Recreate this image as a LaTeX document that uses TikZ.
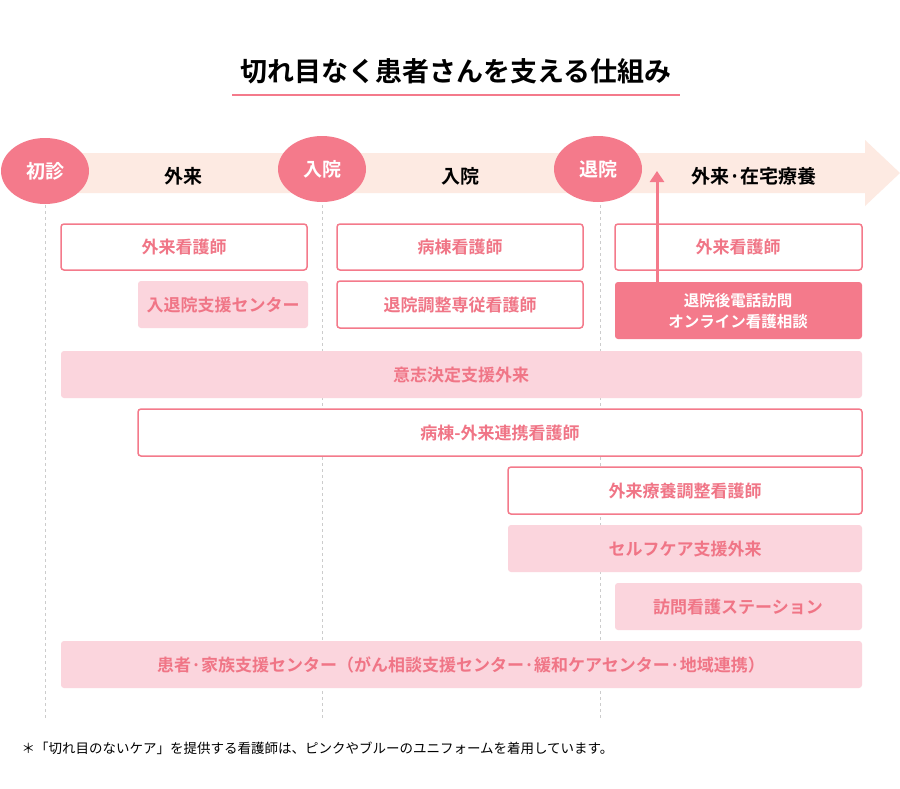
\documentclass[tikz,border=0pt]{standalone}
\usepackage{fontspec}
\setmainfont{Noto Sans CJK JP}[BoldFont={* Bold}]
\usetikzlibrary{arrows.meta,shapes.geometric}
\definecolor{pk}{HTML}{F47A8B}
\definecolor{lpk}{HTML}{FBD5DD}
\definecolor{band}{HTML}{FDEAE2}
\definecolor{txt}{HTML}{F07586}
\tikzset{x=1pt,y=-1pt,
 obox/.style={draw=pk,line width=1.5pt,fill=white,rounded corners=3pt},
 fbox/.style={fill=lpk,rounded corners=3pt},
 lbl/.style={text=txt,font=\fontsize{17}{20}\selectfont\bfseries},
 circ/.style={ellipse,fill=pk,minimum width=88pt,minimum height=66pt,text=white,font=\fontsize{19}{22}\selectfont\bfseries,inner sep=0pt},
 stage/.style={font=\fontsize{19}{22}\selectfont\bfseries},
 vl/.style={draw=black!20,dashed,line width=0.8pt}}
\begin{document}
\begin{tikzpicture}
\useasboundingbox (0,0) rectangle (900,788);
\fill[white] (0,0) rectangle (900,788);
\node[font=\fontsize{27}{32}\selectfont\bfseries] (title) at (456,71) {切れ目なく患者さんを支える仕組み};
\draw[pk,line width=1.2pt] (232,95) -- (680,95);
\fill[band] (45,153) -- (865,153) -- (865,140) -- (900,173) -- (865,206) -- (865,193) -- (45,193) -- cycle;
\draw[vl] (45,205) -- (45,720);
\draw[vl] (322,205) -- (322,720);
\draw[vl] (600,205) -- (600,720);
\node[circ] (c1) at (45,171) {初診};
\node[circ] (c2) at (322,169) {入院};
\node[circ] (c3) at (598,169) {退院};
\node[stage] (s1) at (183,176) {外来};
\node[stage] (s2) at (460,176) {入院};
\node[stage] (s3) at (754,176) {外来·在宅療養};
\draw[obox] (61,224) rectangle (307,270); \node[lbl] (b1) at (184,247) {外来看護師};
\draw[obox] (337,224) rectangle (583,270); \node[lbl] (b2) at (460,247) {病棟看護師};
\draw[obox] (615,224) rectangle (862,270); \node[lbl] (b3) at (738,247) {外来看護師};
\fill[fbox] (138,281) rectangle (308,328); \node[lbl] (b4) at (223,305) {入退院支援センター};
\draw[obox] (337,281) rectangle (583,328); \node[lbl] (b5) at (460,305) {退院調整専従看護師};
\fill[pk,rounded corners=3pt] (615,282) rectangle (862,339);
\node[lbl,text=white,align=center,font=\fontsize{15.5}{21}\selectfont\bfseries] (b6) at (738,311) {退院後電話訪問\\オンライン看護相談};
\coordinate (a0) at (657,282); \coordinate (a1) at (657,171);
\draw[pk,line width=3pt,-{Triangle[length=11pt,width=14pt]}] (a0) -- (a1);
\fill[fbox] (61,351) rectangle (862,398); \node[lbl] (b7) at (461,375) {意志決定支援外来};
\draw[obox] (138,409) rectangle (862,456); \node[lbl] (b8) at (500,433) {病棟-外来連携看護師};
\draw[obox] (508,467) rectangle (862,514); \node[lbl] (b9) at (685,491) {外来療養調整看護師};
\fill[fbox] (508,525) rectangle (862,572); \node[lbl] (b10) at (685,549) {セルフケア支援外来};
\fill[fbox] (615,583) rectangle (862,630); \node[lbl] (b11) at (738,607) {訪問看護ステーション};
\fill[fbox] (61,641) rectangle (862,688); \node[lbl] (b12) at (461,665) {患者·家族支援センター（がん相談支援センター·緩和ケアセンター·地域連携）};
\node[anchor=west,font=\fontsize{13.5}{16}\selectfont] (fn) at (18,748) {＊「切れ目のないケア」を提供する看護師は、ピンクやブルーのユニフォームを着用しています。};
\end{tikzpicture}
\end{document}
